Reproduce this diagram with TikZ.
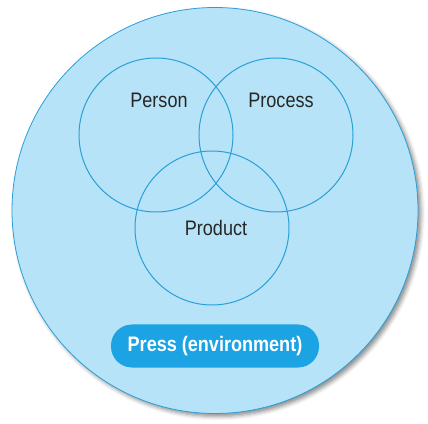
\documentclass[tikz,border=0pt]{standalone}
\usepackage{fontspec}
\setmainfont{Liberation Sans}[FakeStretch=0.86]
\usetikzlibrary{shadows.blur}
\definecolor{skyfill}{HTML}{B6E3F7}
\definecolor{skyline}{HTML}{2A9FD8}
\definecolor{pillblue}{HTML}{1CA3E3}
\tikzset{
  ring/.style={circle,draw=skyline,line width=1pt,minimum size=154pt,inner sep=0pt},
  word/.style={font=\fontsize{21}{23}\selectfont,text=black!85},
  pill/.style={rounded corners=21pt,fill=pillblue,minimum width=208pt,minimum height=43pt,
    text=white,font=\bfseries\fontsize{21}{23}\selectfont}
}
\begin{document}
\begin{tikzpicture}[x=1pt,y=1pt]
\useasboundingbox (0,0) rectangle (428,423);
% outer disc
\node[circle,fill=skyfill,draw=skyline,line width=0.8pt,minimum size=406pt,inner sep=0pt,
  blur shadow={shadow xshift=3pt,shadow yshift=-3pt,shadow blur radius=4pt,shadow opacity=45}] (press) at (215,212.5) {};
% the three rings
\node[ring] (person) at (156,288) {};
\node[ring] (process) at (276,288) {};
\node[ring] (product) at (212,195) {};
\node[word] at ([xshift=3pt,yshift=35pt]person.center) {Person};
\node[word] at ([xshift=5pt,yshift=35pt]process.center) {Process};
\node[word] at ([xshift=4pt]product.center) {Product};
\node[pill] (env) at (215,77) {Press (environment)};
\end{tikzpicture}
\end{document}
